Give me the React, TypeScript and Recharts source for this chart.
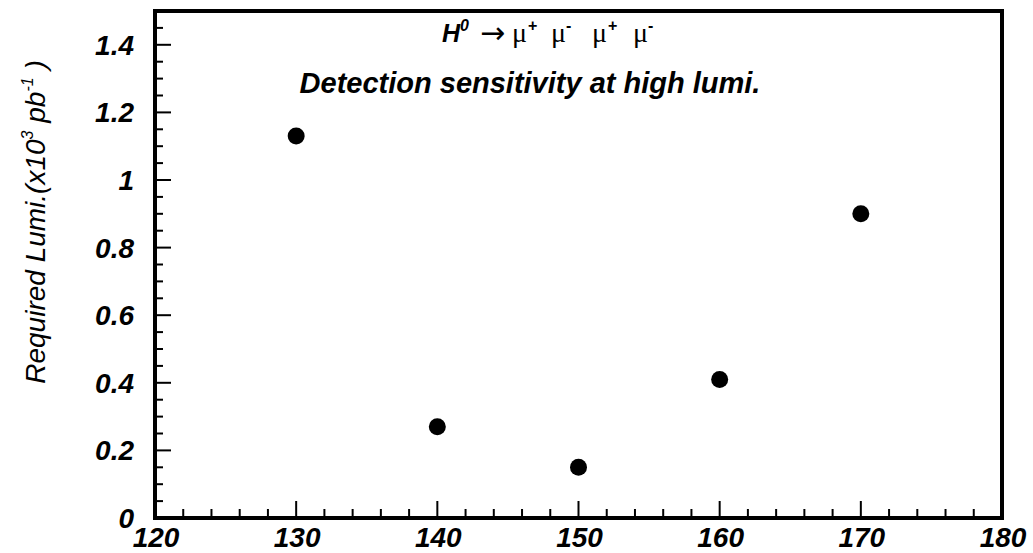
import React from "react";
import { ScatterChart, Scatter, XAxis, YAxis, ReferenceLine } from "recharts";

// ---- data ----
const masses = [130, 140, 150, 160, 170];
const lumis = [1.13, 0.27, 0.15, 0.41, 0.9];
const xMajorTicks = [120, 130, 140, 150, 160, 170, 180];
const xTickLabels = ["120", "130", "140", "150", "160", "170", "180"];
const yMajorTicks = [0, 0.2, 0.4, 0.6, 0.8, 1.0, 1.2, 1.4];
const yTickLabels = ["0", "0.2", "0.4", "0.6", "0.8", "1", "1.2", "1.4"];
const xDomain: [number, number] = [120, 180];
const yDomain: [number, number] = [0, 1.5];
const xMinorStep = 2;
const yMinorStep = 0.05;

const data = masses.map((m, i) => ({ x: m, y: lumis[i] }));

const buildTicks = (lo: number, hi: number, step: number) => {
  const out: number[] = [];
  const n = Math.round((hi - lo) / step);
  for (let i = 0; i <= n; i++) out.push(Math.round((lo + i * step) * 1000) / 1000);
  return out;
};
const xAllTicks = buildTicks(xDomain[0], xDomain[1], xMinorStep);
const yAllTicks = buildTicks(yDomain[0], 1.45, yMinorStep);

const W = 1033;
const H = 553;
const SANS = "'Liberation Sans', Arial, Helvetica, sans-serif";
const SERIF = "'Liberation Serif', 'Times New Roman', serif";

const isMajor = (v: number, majors: number[]) => majors.some((m) => Math.abs(m - v) < 1e-6);
const labelFor = (v: number, majors: number[], labels: string[]) => {
  const idx = majors.findIndex((m) => Math.abs(m - v) < 1e-6);
  return idx >= 0 ? labels[idx] : "";
};

const XTick = (props: any) => {
  const { x, y, payload } = props;
  const v = payload.value;
  const major = isMajor(v, xMajorTicks);
  const len = major ? 17 : 9;
  return (
    <g>
      {v > xDomain[0] && v < xDomain[1] && (
        <line x1={x} y1={y} x2={x} y2={y - len} stroke="#000" strokeWidth={2} />
      )}
      {major && (
        <text
          x={x + 1}
          y={y + 29}
          textAnchor="middle"
          fontFamily={SANS}
          fontSize={28}
          fontWeight="bold"
          fontStyle="italic"
          fill="#000"
        >
          {labelFor(v, xMajorTicks, xTickLabels)}
        </text>
      )}
    </g>
  );
};

const YTick = (props: any) => {
  const { x, y, payload } = props;
  const v = payload.value;
  const major = isMajor(v, yMajorTicks);
  const len = major ? 16 : 8;
  return (
    <g>
      {v > yDomain[0] && (
        <line x1={x} y1={y} x2={x + len} y2={y} stroke="#000" strokeWidth={2} />
      )}
      {major && (
        <text
          x={x - 21}
          y={y + 10}
          textAnchor="end"
          fontFamily={SANS}
          fontSize={28}
          fontWeight="bold"
          fontStyle="italic"
          fill="#000"
        >
          {labelFor(v, yMajorTicks, yTickLabels)}
        </text>
      )}
    </g>
  );
};

const Dot = (props: any) => <circle cx={props.cx} cy={props.cy} r={8.5} fill="#000" />;

export default function App() {
  return (
    <div style={{ position: "absolute", left: 0, top: 0, width: W, height: H, background: "#fff" }}>
      <ScatterChart width={W} height={H} margin={{ top: 11, right: 31, bottom: 0, left: 0 }}>
        <XAxis
          type="number"
          dataKey="x"
          domain={xDomain}
          ticks={xAllTicks}
          interval={0}
          height={35}
          tickSize={0}
          tickMargin={0}
          tickLine={false}
          tick={<XTick />}
          axisLine={{ stroke: "#000", strokeWidth: 4, strokeLinecap: "square" }}
          allowDataOverflow
        />
        <YAxis
          type="number"
          dataKey="y"
          domain={yDomain}
          ticks={yAllTicks}
          interval={0}
          width={155}
          tickSize={0}
          tickMargin={0}
          tickLine={false}
          tick={<YTick />}
          axisLine={{ stroke: "#000", strokeWidth: 4, strokeLinecap: "square" }}
          allowDataOverflow
        />
        <ReferenceLine y={yDomain[1]} stroke="#000" strokeWidth={4} strokeLinecap="square" />
        <ReferenceLine x={xDomain[1]} stroke="#000" strokeWidth={4} strokeLinecap="square" />
        <Scatter data={data} shape={<Dot />} isAnimationActive={false} />
      </ScatterChart>
      <svg
        width={W}
        height={H}
        style={{ position: "absolute", left: 0, top: 0, pointerEvents: "none" }}
      >
        <g fill="#000">
          <text x={442} y={42} fontFamily={SANS} fontSize={25} fontWeight="bold" fontStyle="italic">H</text>
          <text x={460} y={31} fontFamily={SANS} fontSize={16} fontWeight="bold" fontStyle="italic">0</text>
          <text x={480} y={43} fontFamily="'DejaVu Sans', sans-serif" fontSize={30}>→</text>
          <text x={512} y={42} fontFamily={SERIF} fontSize={28}>μ</text>
          <text x={528} y={31} fontFamily={SANS} fontSize={16} fontWeight="bold">+</text>
          <text x={551} y={42} fontFamily={SERIF} fontSize={28}>μ</text>
          <text x={566} y={31} fontFamily={SANS} fontSize={16} fontWeight="bold">-</text>
          <text x={592} y={42} fontFamily={SERIF} fontSize={28}>μ</text>
          <text x={608} y={31} fontFamily={SANS} fontSize={16} fontWeight="bold">+</text>
          <text x={633} y={42} fontFamily={SERIF} fontSize={28}>μ</text>
          <text x={648} y={31} fontFamily={SANS} fontSize={16} fontWeight="bold">-</text>
        </g>
        <text
          x={530}
          y={93}
          textAnchor="middle"
          fontFamily={SANS}
          fontSize={29}
          fontWeight="bold"
          fontStyle="italic"
          fill="#000"
        >
          Detection sensitivity at high lumi.
        </text>
        <text
          transform="translate(45,222) rotate(-90)"
          textAnchor="middle"
          fontFamily={SANS}
          fontSize={28}
          fontStyle="italic"
          fill="#000"
        >
          <tspan>Required Lumi.(x10</tspan>
          <tspan fontSize={16} dy={-12}>3</tspan>
          <tspan dy={12}> pb</tspan>
          <tspan fontSize={16} dy={-12}>-1</tspan>
          <tspan dy={12}> )</tspan>
        </text>
      </svg>
    </div>
  );
}
